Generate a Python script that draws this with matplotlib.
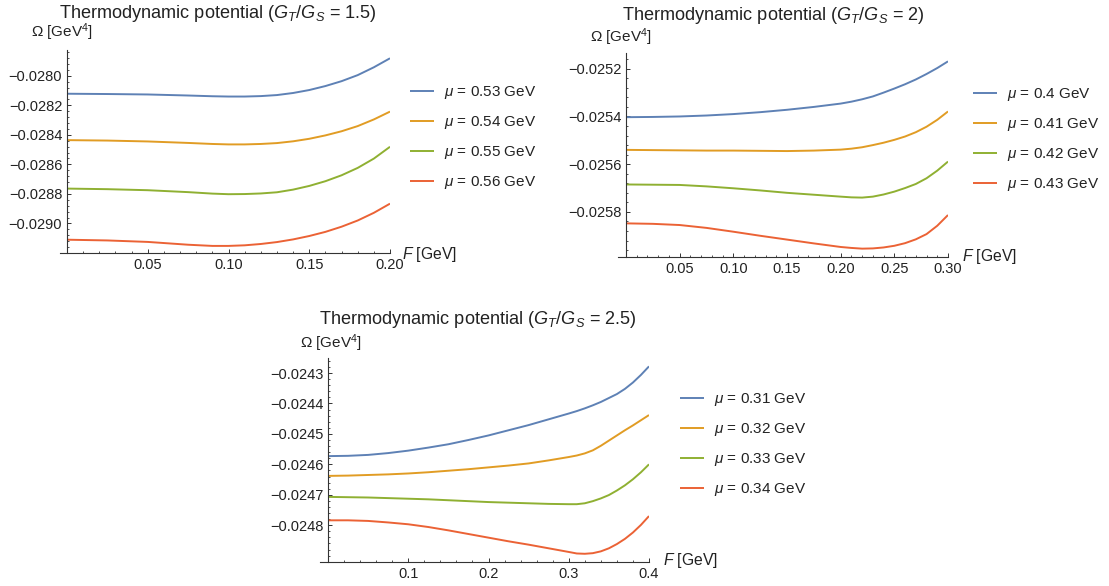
import matplotlib
matplotlib.use("Agg")
import matplotlib.pyplot as plt
from matplotlib.ticker import FixedLocator, MultipleLocator, FuncFormatter

plt.rcParams['font.family'] = ['Liberation Sans', 'DejaVu Sans']
plt.rcParams['mathtext.fontset'] = 'custom'
plt.rcParams['mathtext.rm'] = 'Liberation Sans'
plt.rcParams['mathtext.it'] = 'Liberation Sans:italic'
plt.rcParams['mathtext.bf'] = 'Liberation Sans:bold'

# ---------------- data ----------------
colors = ['#5E81B5', '#E19C24', '#8FB032', '#EB6235']

# Panel 1: G_T/G_S = 1.5
p1_mu = [0.53, 0.54, 0.55, 0.56]
p1_F = [0, 0.025, 0.05, 0.075, 0.09, 0.1, 0.11, 0.12, 0.13, 0.14, 0.15, 0.16,
        0.17, 0.18, 0.19, 0.2]
p1_blue = [-0.028122, -0.028124, -0.028127, -0.028134, -0.028139, -0.028141, -0.028141,
           -0.028138, -0.028131, -0.028117, -0.028097, -0.028070, -0.028037, -0.027996,
           -0.027943, -0.027882]
p1_orange = [-0.028436, -0.028439, -0.028445, -0.028455, -0.028462, -0.028465, -0.028465,
             -0.028462, -0.028456, -0.028444, -0.028427, -0.028404, -0.028376, -0.028341,
             -0.028296, -0.028243]
p1_green = [-0.028764, -0.028768, -0.028775, -0.028788, -0.028798, -0.028802, -0.028801,
            -0.028797, -0.028789, -0.028771, -0.028746, -0.028714, -0.028674, -0.028624,
            -0.028561, -0.028481]
p1_red = [-0.029110, -0.029115, -0.029125, -0.029144, -0.029152, -0.029152, -0.029148,
          -0.029139, -0.029126, -0.029108, -0.029085, -0.029057, -0.029022, -0.028980,
          -0.028928, -0.028866]
p1_yticks = [-0.0280, -0.0282, -0.0284, -0.0286, -0.0288, -0.0290]
p1_xticks = [0.05, 0.10, 0.15, 0.20]

# Panel 2: G_T/G_S = 2
p2_mu = [0.4, 0.41, 0.42, 0.43]
p2_F = [0, 0.025, 0.05, 0.075, 0.1, 0.125, 0.15, 0.175, 0.2, 0.21, 0.22, 0.23, 0.24,
        0.25, 0.26, 0.27, 0.28, 0.29, 0.3]
p2_blue = [-0.025403, -0.025402, -0.025400, -0.025396, -0.025390, -0.025382, -0.025372,
           -0.025360, -0.025346, -0.025338, -0.025328, -0.025316, -0.025300, -0.025283,
           -0.025265, -0.025245, -0.025222, -0.025197, -0.025169]
p2_orange = [-0.025540, -0.025541, -0.025542, -0.025543, -0.025543, -0.025544, -0.025545,
             -0.025543, -0.025539, -0.025535, -0.025529, -0.025520, -0.025510, -0.025498,
             -0.025484, -0.025466, -0.025443, -0.025414, -0.025379]
p2_green = [-0.025685, -0.025686, -0.025687, -0.025693, -0.025701, -0.025710, -0.025720,
            -0.025728, -0.025736, -0.025739, -0.025740, -0.025736, -0.025727, -0.025715,
            -0.025700, -0.025683, -0.025659, -0.025627, -0.025589]
p2_red = [-0.025848, -0.025850, -0.025855, -0.025867, -0.025883, -0.025900, -0.025916,
          -0.025932, -0.025947, -0.025951, -0.025954, -0.025953, -0.025949, -0.025942,
          -0.025931, -0.025915, -0.025893, -0.025858, -0.025813]
p2_yticks = [-0.0252, -0.0254, -0.0256, -0.0258]
p2_xticks = [0.05, 0.10, 0.15, 0.20, 0.25, 0.30]

# Panel 3: G_T/G_S = 2.5
p3_mu = [0.31, 0.32, 0.33, 0.34]
p3_F = [0, 0.025, 0.05, 0.075, 0.1, 0.125, 0.15, 0.175, 0.2, 0.225, 0.25, 0.275, 0.3,
        0.31, 0.32, 0.33, 0.34, 0.35, 0.36, 0.37, 0.38, 0.39, 0.4]
p3_blue = [-0.024573, -0.024572, -0.024569, -0.024563, -0.024555, -0.024545, -0.024534,
           -0.024520, -0.024505, -0.024488, -0.024471, -0.024452, -0.024433, -0.024425,
           -0.024416, -0.024406, -0.024395, -0.024382, -0.024369, -0.024352, -0.024331,
           -0.024306, -0.024278]
p3_orange = [-0.024638, -0.024637, -0.024635, -0.024633, -0.024630, -0.024626, -0.024621,
             -0.024616, -0.024610, -0.024604, -0.024597, -0.024587, -0.024576, -0.024571,
             -0.024564, -0.024554, -0.024539, -0.024522, -0.024505, -0.024488, -0.024472,
             -0.024455, -0.024438]
p3_green = [-0.024707, -0.024708, -0.024709, -0.024711, -0.024713, -0.024715, -0.024718,
            -0.024721, -0.024724, -0.024726, -0.024728, -0.024730, -0.024731, -0.024731,
            -0.024728, -0.024721, -0.024712, -0.024701, -0.024686, -0.024669, -0.024649,
            -0.024626, -0.024600]
p3_red = [-0.024784, -0.024784, -0.024786, -0.024791, -0.024797, -0.024806, -0.024817,
          -0.024829, -0.024841, -0.024853, -0.024864, -0.024876, -0.024888, -0.024893,
          -0.024894, -0.024892, -0.024886, -0.024876, -0.024862, -0.024845, -0.024824,
          -0.024799, -0.024770]
p3_yticks = [-0.0243, -0.0244, -0.0245, -0.0246, -0.0247, -0.0248]
p3_xticks = [0.1, 0.2, 0.3, 0.4]

# ---------------- figure ----------------
W, H = 1109, 586
fig = plt.figure(figsize=(W / 100, H / 100), dpi=100)

AXC = '#333333'
TXC = '#222222'


def fmt(nd):
    return FuncFormatter(lambda v, p: ('%.*f' % (nd, v)).replace('-', '\u2212'))


def make_panel(px_left, px_axis, px_right, px_top, px_bottom, xmax, ylim,
               F, series, mus, xticks, yticks, xminor, yminor, xnd, ynd,
               ratio, title_xy, omega_xy, flab_xy, leg_xy):
    ax = fig.add_axes([px_left / W, 1 - px_bottom / H,
                       (px_right - px_left) / W, (px_bottom - px_top) / H])
    eps = xmax * (px_axis - px_left) / (px_right - px_axis)
    lines = []
    for vals, c, mu in zip(series, colors, mus):
        ln, = ax.plot(F, vals, color=c, lw=1.4, solid_capstyle='butt',
                      solid_joinstyle='round', label=r'$\mu$ = %s GeV' % mu)
        lines.append(ln)
    ax.set_xlim(-eps, xmax)
    ax.set_ylim(*ylim)
    for s in ['top', 'right']:
        ax.spines[s].set_visible(False)
    ax.spines['left'].set_position(('data', 0))
    for s in ['left', 'bottom']:
        ax.spines[s].set_color(AXC)
        ax.spines[s].set_linewidth(0.8)
    ax.xaxis.set_major_locator(FixedLocator(xticks))
    ax.yaxis.set_major_locator(FixedLocator(yticks))
    ax.xaxis.set_minor_locator(MultipleLocator(xminor))
    ax.yaxis.set_minor_locator(MultipleLocator(yminor))
    ax.xaxis.set_major_formatter(fmt(xnd))
    ax.yaxis.set_major_formatter(fmt(ynd))
    ax.tick_params(which='major', direction='in', length=3.2, width=0.7,
                   color=AXC, labelsize=10.5, labelcolor=TXC, pad=3.5)
    ax.tick_params(which='minor', direction='in', length=1.7, width=0.6, color=AXC)
    ax.patch.set_alpha(0)

    fig.text(title_xy[0] / W, 1 - title_xy[1] / H,
             'Thermodynamic potential ($G_T/G_S$ = %s)' % ratio,
             ha='center', va='center', fontsize=13.1, color=TXC)
    fig.text(omega_xy[0] / W, 1 - omega_xy[1] / H, 'Ω [GeV$^{4}$]',
             ha='left', va='center', fontsize=11, color=TXC)
    fig.text(flab_xy[0] / W, 1 - flab_xy[1] / H, '$F$ [GeV]',
             ha='left', va='center', fontsize=11.3, color=TXC)
    ax.legend(handles=lines, loc='upper left',
              bbox_to_anchor=(leg_xy[0] / W, 1 - leg_xy[1] / H),
              bbox_transform=fig.transFigure, frameon=False, fontsize=11,
              handlelength=1.6, handletextpad=0.6, labelspacing=0.86,
              borderpad=0, borderaxespad=0, labelcolor=TXC)
    return ax


make_panel(60, 67, 390, 50, 253, 0.2, (-0.029200, -0.027826),
           p1_F, [p1_blue, p1_orange, p1_green, p1_red], p1_mu,
           p1_xticks, p1_yticks, 0.01, 0.00004, 2, 4, '1.5',
           (218, 13), (31, 32), (402, 254), (410, 84))

make_panel(618, 626, 948, 53, 257, 0.3, (-0.025989, -0.025134),
           p2_F, [p2_blue, p2_orange, p2_green, p2_red], p2_mu,
           p2_xticks, p2_yticks, 0.01, 0.00004, 2, 4, '2',
           (773, 15), (590, 37), (962, 256), (973, 86))

make_panel(320, 328, 649, 358, 562, 0.4, (-0.024921, -0.0242505),
           p3_F, [p3_blue, p3_orange, p3_green, p3_red], p3_mu,
           p3_xticks, p3_yticks, 0.02, 0.00002, 1, 4, '2.5',
           (478, 319), (300, 343), (663, 561), (680, 391))

fig.savefig('out.png', dpi=100)
